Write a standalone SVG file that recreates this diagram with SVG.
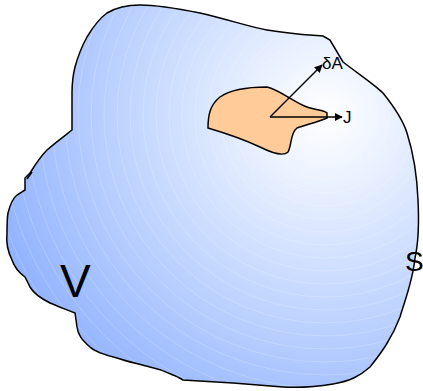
<svg xmlns="http://www.w3.org/2000/svg" width="423" height="391" viewBox="0 0 423 391">
<style>
.edge{fill:none;stroke:#000;stroke-width:1.5}
.lbl{font-family:"Liberation Sans",Arial,sans-serif;fill:#000}
.ring{fill:none;stroke:#ffffff;stroke-opacity:0.3;stroke-width:0.7}
</style>
<defs>
<radialGradient id="g" gradientUnits="userSpaceOnUse" cx="325" cy="115" r="385">
<stop offset="0" stop-color="#ffffff"/>
<stop offset="0.15" stop-color="#eef4ff"/>
<stop offset="0.5" stop-color="#c2d6fe"/>
<stop offset="1" stop-color="#84a9fe"/>
</radialGradient>
<clipPath id="clip">
<path id="outline" d="M140,5 C160,5 180,9 200,13 C230,20 250,27 267,30 C290,34 310,35 323,36 L330,40 L343,62 C360,75 375,85 383,93 C395,108 403,120 407,133 C414,155 417,175 418,200 C419,220 419,240 415,258 C413,280 405,300 400,317 C392,338 382,352 370,367 C360,376 350,381 333,384 C315,387 300,388 283,387 L233,383 L183,380 C178,377 176,376 173,375 C165,371 160,369 150,367 C135,363 125,361 117,358 C105,355 95,352 90,347 C82,340 78,335 77,327 L75,313 C65,309 57,306 50,303 C40,298 33,292 30,287 L25,277 C18,272 14,266 12,260 C7,250 6,242 7,233 C7,224 7,218 8,213 C10,205 13,198 17,195 L25,190 L25,178 L30,173 C35,165 40,157 47,150 C55,143 63,137 72,130 L72,93 C72,85 73,75 75,67 C78,56 82,46 87,37 C93,27 100,18 107,13 C117,7 128,5 140,5 Z"/>
</clipPath>
<marker id="ah" viewBox="0 0 10 10" refX="9" refY="5" markerWidth="8" markerHeight="8" markerUnits="userSpaceOnUse" orient="auto">
<path d="M0,0 L10,5 L0,10 Z" fill="#000"/>
</marker>
</defs>
<g id="volume">
<use href="#outline" fill="url(#g)"/>
<g clip-path="url(#clip)">
<circle class="ring" cx="325" cy="115" r="26"/>
<circle class="ring" cx="325" cy="115" r="39"/>
<circle class="ring" cx="325" cy="115" r="52"/>
<circle class="ring" cx="325" cy="115" r="65"/>
<circle class="ring" cx="325" cy="115" r="78"/>
<circle class="ring" cx="325" cy="115" r="91"/>
<circle class="ring" cx="325" cy="115" r="104"/>
<circle class="ring" cx="325" cy="115" r="117"/>
<circle class="ring" cx="325" cy="115" r="130"/>
<circle class="ring" cx="325" cy="115" r="143"/>
<circle class="ring" cx="325" cy="115" r="156"/>
<circle class="ring" cx="325" cy="115" r="169"/>
<circle class="ring" cx="325" cy="115" r="182"/>
<circle class="ring" cx="325" cy="115" r="195"/>
<circle class="ring" cx="325" cy="115" r="208"/>
<circle class="ring" cx="325" cy="115" r="221"/>
<circle class="ring" cx="325" cy="115" r="234"/>
<circle class="ring" cx="325" cy="115" r="247"/>
<circle class="ring" cx="325" cy="115" r="260"/>
<circle class="ring" cx="325" cy="115" r="273"/>
<circle class="ring" cx="325" cy="115" r="286"/>
<circle class="ring" cx="325" cy="115" r="299"/>
<circle class="ring" cx="325" cy="115" r="312"/>
<circle class="ring" cx="325" cy="115" r="325"/>
<circle class="ring" cx="325" cy="115" r="338"/>
<circle class="ring" cx="325" cy="115" r="351"/>
<circle class="ring" cx="325" cy="115" r="364"/>
<circle class="ring" cx="325" cy="115" r="377"/>
</g>
<use href="#outline" class="edge"/>
<path d="M27,179 L32,172" class="edge"/>
</g>
<g id="patch">
<path d="M208,128 C208,115 210,105 220,97 C230,90 245,87 267,87 C280,90 295,103 307,107 C315,110 325,110 327,113 L327,118 C318,122 305,125 297,128 C290,133 292,145 288,152 C283,157 270,152 260,147 C245,140 225,133 208,128 Z" fill="#ffcc99" stroke="#000" stroke-width="1.5"/>
</g>
<g id="connectors">
<line x1="270" y1="117" x2="322" y2="65" class="edge" marker-end="url(#ah)"/>
<line x1="270" y1="117" x2="342" y2="117" class="edge" marker-end="url(#ah)"/>
</g>
<g id="labels">
<text class="lbl" x="322" y="69" font-size="17">δA</text>
<text class="lbl" x="343" y="123" font-size="17">J</text>
<text class="lbl" x="60" y="297" font-size="46">V</text>
<text class="lbl" x="405" y="271" font-size="28">S</text>
</g>
</svg>
